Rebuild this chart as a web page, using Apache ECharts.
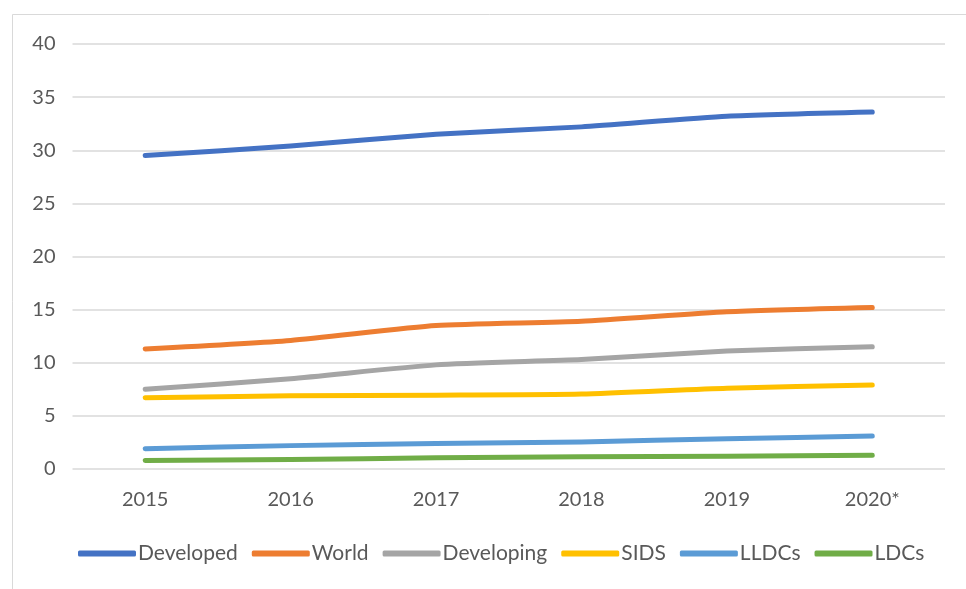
<!DOCTYPE html>
<html>
<head>
<meta charset="utf-8">
<script src="https://cdn.jsdelivr.net/npm/echarts@6/dist/echarts.min.js"></script>
<style>
  html, body { margin: 0; padding: 0; background: #fff; }
  #chart { width: 966px; height: 589px; }
</style>
</head>
<body>
<div id="chart"></div>
<script>
// Years on the category axis
const years = ['2015', '2016', '2017', '2018', '2019', '2020*'];

// Series values per group
const developed  = [29.5, 30.4, 31.5, 32.2, 33.2, 33.6];
const world      = [11.3, 12.1, 13.5, 13.9, 14.8, 15.2];
const developing = [7.5, 8.5, 9.8, 10.3, 11.1, 11.5];
const sids       = [6.7, 6.9, 6.95, 7.05, 7.6, 7.9];
const lldcs      = [1.9, 2.2, 2.4, 2.55, 2.85, 3.1];
const ldcs       = [0.8, 0.9, 1.05, 1.15, 1.2, 1.3];

const seriesNames = ['Developed', 'World', 'Developing', 'SIDS', 'LLDCs', 'LDCs'];
const seriesData = [developed, world, developing, sids, lldcs, ldcs];
const seriesColors = ['#4472C4', '#ED7D31', '#A5A5A5', '#FFC000', '#5B9BD5', '#70AD47'];

const fontFamily = 'Lato, "Open Sans", sans-serif';

const chart = echarts.init(document.getElementById('chart'), null, { renderer: 'canvas' });

chart.setOption({
  backgroundColor: '#ffffff',
  animation: false,
  graphic: [
    {
      type: 'polyline',
      shape: { points: [[12.5, 589], [12.5, 14.5], [966, 14.5]] },
      style: { stroke: '#D9D9D9', lineWidth: 1, fill: null },
      silent: true
    }
  ],
  grid: { left: 72.5, right: 21, top: 44, bottom: 120, containLabel: false },
  legend: {
    bottom: 20,
    left: 73,
    icon: 'roundRect',
    itemWidth: 58,
    itemHeight: 6,
    itemGap: 14,
    textStyle: { color: '#595959', fontSize: 21, fontFamily: fontFamily, padding: [0, 0, 0, -3] },
    data: seriesNames
  },
  xAxis: {
    type: 'category',
    data: years,
    boundaryGap: true,
    axisLine: { show: false },
    axisTick: { show: false },
    axisLabel: { color: '#595959', fontSize: 20, fontFamily: fontFamily, margin: 21 }
  },
  yAxis: {
    type: 'value',
    min: 0,
    max: 40,
    interval: 5,
    axisLine: { show: false },
    axisTick: { show: false },
    axisLabel: { color: '#595959', fontSize: 20, fontFamily: fontFamily, margin: 17 },
    splitLine: { lineStyle: { color: '#D9D9D9', width: 1.5 } }
  },
  series: seriesNames.map((name, i) => ({
    name: name,
    type: 'line',
    data: seriesData[i],
    smooth: 0.2,
    symbol: 'none',
    lineStyle: { color: seriesColors[i], width: 5, cap: 'round', join: 'round' },
    itemStyle: { color: seriesColors[i] }
  }))
});
</script>
</body>
</html>
